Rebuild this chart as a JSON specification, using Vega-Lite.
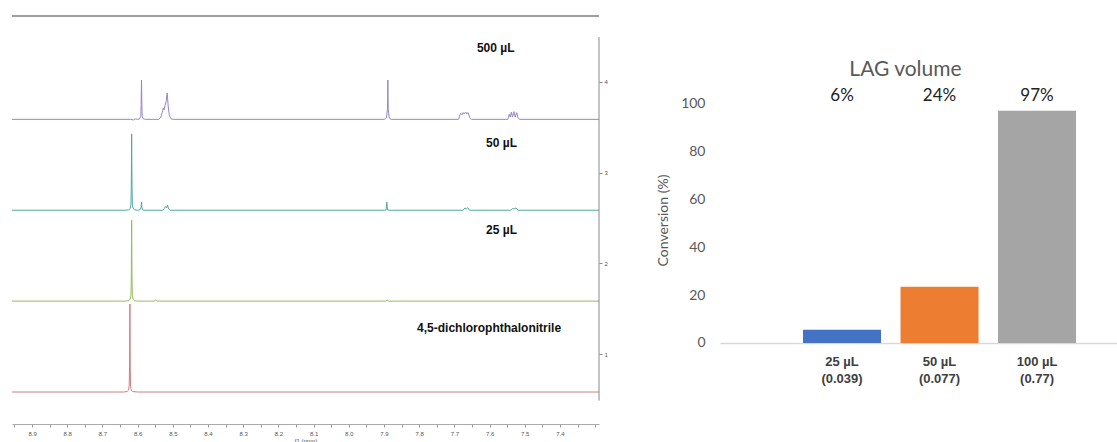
{
  "$schema": "https://vega.github.io/schema/vega-lite/v6.json",
  "padding": {"left": 10, "top": 15, "right": 0, "bottom": 0},
  "autosize": {"type": "pad"},
  "background": "white",
  "spacing": 121,
  "bounds": "flush",
  "resolve": {"scale": {"color": "independent"}},
  "config": {"view": {"stroke": null}},
  "datasets": {
    "spectra": [
      {"sample": "4,5-dichlorophthalonitrile", "ppm": 8.957, "signal": 0.585},
      {"sample": "4,5-dichlorophthalonitrile", "ppm": 8.64, "signal": 0.585},
      {"sample": "4,5-dichlorophthalonitrile", "ppm": 8.63, "signal": 0.59},
      {"sample": "4,5-dichlorophthalonitrile", "ppm": 8.626, "signal": 0.605},
      {"sample": "4,5-dichlorophthalonitrile", "ppm": 8.624, "signal": 0.65},
      {"sample": "4,5-dichlorophthalonitrile", "ppm": 8.623, "signal": 0.85},
      {"sample": "4,5-dichlorophthalonitrile", "ppm": 8.622, "signal": 1.553},
      {"sample": "4,5-dichlorophthalonitrile", "ppm": 8.621, "signal": 0.85},
      {"sample": "4,5-dichlorophthalonitrile", "ppm": 8.62, "signal": 0.65},
      {"sample": "4,5-dichlorophthalonitrile", "ppm": 8.618, "signal": 0.605},
      {"sample": "4,5-dichlorophthalonitrile", "ppm": 8.614, "signal": 0.59},
      {"sample": "4,5-dichlorophthalonitrile", "ppm": 8.6, "signal": 0.585},
      {"sample": "4,5-dichlorophthalonitrile", "ppm": 7.289, "signal": 0.585},

      {"sample": "25 µL", "ppm": 8.957, "signal": 1.585},
      {"sample": "25 µL", "ppm": 8.635, "signal": 1.585},
      {"sample": "25 µL", "ppm": 8.625, "signal": 1.59},
      {"sample": "25 µL", "ppm": 8.621, "signal": 1.605},
      {"sample": "25 µL", "ppm": 8.619, "signal": 1.65},
      {"sample": "25 µL", "ppm": 8.618, "signal": 1.85},
      {"sample": "25 µL", "ppm": 8.617, "signal": 2.477},
      {"sample": "25 µL", "ppm": 8.616, "signal": 1.85},
      {"sample": "25 µL", "ppm": 8.615, "signal": 1.65},
      {"sample": "25 µL", "ppm": 8.613, "signal": 1.605},
      {"sample": "25 µL", "ppm": 8.609, "signal": 1.59},
      {"sample": "25 µL", "ppm": 8.6, "signal": 1.585},
      {"sample": "25 µL", "ppm": 8.552, "signal": 1.585},
      {"sample": "25 µL", "ppm": 8.549, "signal": 1.6},
      {"sample": "25 µL", "ppm": 8.546, "signal": 1.585},
      {"sample": "25 µL", "ppm": 7.895, "signal": 1.585},
      {"sample": "25 µL", "ppm": 7.891, "signal": 1.597},
      {"sample": "25 µL", "ppm": 7.887, "signal": 1.585},
      {"sample": "25 µL", "ppm": 7.289, "signal": 1.585},

      {"sample": "50 µL", "ppm": 8.957, "signal": 2.585},
      {"sample": "50 µL", "ppm": 8.635, "signal": 2.585},
      {"sample": "50 µL", "ppm": 8.625, "signal": 2.59},
      {"sample": "50 µL", "ppm": 8.621, "signal": 2.605},
      {"sample": "50 µL", "ppm": 8.619, "signal": 2.65},
      {"sample": "50 µL", "ppm": 8.618, "signal": 2.85},
      {"sample": "50 µL", "ppm": 8.617, "signal": 3.426},
      {"sample": "50 µL", "ppm": 8.616, "signal": 2.85},
      {"sample": "50 µL", "ppm": 8.615, "signal": 2.65},
      {"sample": "50 µL", "ppm": 8.613, "signal": 2.605},
      {"sample": "50 µL", "ppm": 8.609, "signal": 2.59},
      {"sample": "50 µL", "ppm": 8.6, "signal": 2.585},
      {"sample": "50 µL", "ppm": 8.593, "signal": 2.59},
      {"sample": "50 µL", "ppm": 8.59, "signal": 2.62},
      {"sample": "50 µL", "ppm": 8.589, "signal": 2.675},
      {"sample": "50 µL", "ppm": 8.588, "signal": 2.62},
      {"sample": "50 µL", "ppm": 8.586, "signal": 2.59},
      {"sample": "50 µL", "ppm": 8.582, "signal": 2.585},
      {"sample": "50 µL", "ppm": 8.528, "signal": 2.585},
      {"sample": "50 µL", "ppm": 8.524, "signal": 2.605},
      {"sample": "50 µL", "ppm": 8.521, "signal": 2.625},
      {"sample": "50 µL", "ppm": 8.518, "signal": 2.61},
      {"sample": "50 µL", "ppm": 8.515, "signal": 2.64},
      {"sample": "50 µL", "ppm": 8.512, "signal": 2.6},
      {"sample": "50 µL", "ppm": 8.508, "signal": 2.585},
      {"sample": "50 µL", "ppm": 7.899, "signal": 2.585},
      {"sample": "50 µL", "ppm": 7.894, "signal": 2.59},
      {"sample": "50 µL", "ppm": 7.892, "signal": 2.675},
      {"sample": "50 µL", "ppm": 7.89, "signal": 2.59},
      {"sample": "50 µL", "ppm": 7.885, "signal": 2.585},
      {"sample": "50 µL", "ppm": 7.675, "signal": 2.585},
      {"sample": "50 µL", "ppm": 7.67, "signal": 2.61},
      {"sample": "50 µL", "ppm": 7.666, "signal": 2.6},
      {"sample": "50 µL", "ppm": 7.662, "signal": 2.612},
      {"sample": "50 µL", "ppm": 7.657, "signal": 2.585},
      {"sample": "50 µL", "ppm": 7.54, "signal": 2.585},
      {"sample": "50 µL", "ppm": 7.535, "signal": 2.605},
      {"sample": "50 µL", "ppm": 7.53, "signal": 2.598},
      {"sample": "50 µL", "ppm": 7.525, "signal": 2.61},
      {"sample": "50 µL", "ppm": 7.519, "signal": 2.585},
      {"sample": "50 µL", "ppm": 7.289, "signal": 2.585},

      {"sample": "500 µL", "ppm": 8.957, "signal": 3.585},
      {"sample": "500 µL", "ppm": 8.62, "signal": 3.585},
      {"sample": "500 µL", "ppm": 8.612, "signal": 3.578},
      {"sample": "500 µL", "ppm": 8.607, "signal": 3.59},
      {"sample": "500 µL", "ppm": 8.6, "signal": 3.585},
      {"sample": "500 µL", "ppm": 8.594, "signal": 3.59},
      {"sample": "500 µL", "ppm": 8.591, "signal": 3.62},
      {"sample": "500 µL", "ppm": 8.59, "signal": 3.75},
      {"sample": "500 µL", "ppm": 8.589, "signal": 4.018},
      {"sample": "500 µL", "ppm": 8.588, "signal": 3.75},
      {"sample": "500 µL", "ppm": 8.587, "signal": 3.62},
      {"sample": "500 µL", "ppm": 8.584, "signal": 3.59},
      {"sample": "500 µL", "ppm": 8.578, "signal": 3.585},
      {"sample": "500 µL", "ppm": 8.54, "signal": 3.585},
      {"sample": "500 µL", "ppm": 8.534, "signal": 3.61},
      {"sample": "500 µL", "ppm": 8.53, "signal": 3.66},
      {"sample": "500 µL", "ppm": 8.527, "signal": 3.71},
      {"sample": "500 µL", "ppm": 8.525, "signal": 3.69},
      {"sample": "500 µL", "ppm": 8.522, "signal": 3.74},
      {"sample": "500 µL", "ppm": 8.519, "signal": 3.78},
      {"sample": "500 µL", "ppm": 8.516, "signal": 3.875},
      {"sample": "500 µL", "ppm": 8.513, "signal": 3.72},
      {"sample": "500 µL", "ppm": 8.51, "signal": 3.63},
      {"sample": "500 µL", "ppm": 8.505, "signal": 3.59},
      {"sample": "500 µL", "ppm": 8.498, "signal": 3.585},
      {"sample": "500 µL", "ppm": 7.898, "signal": 3.585},
      {"sample": "500 µL", "ppm": 7.893, "signal": 3.6},
      {"sample": "500 µL", "ppm": 7.89, "signal": 3.7},
      {"sample": "500 µL", "ppm": 7.889, "signal": 4.018},
      {"sample": "500 µL", "ppm": 7.888, "signal": 3.7},
      {"sample": "500 µL", "ppm": 7.885, "signal": 3.6},
      {"sample": "500 µL", "ppm": 7.88, "signal": 3.585},
      {"sample": "500 µL", "ppm": 7.688, "signal": 3.585},
      {"sample": "500 µL", "ppm": 7.684, "signal": 3.64},
      {"sample": "500 µL", "ppm": 7.681, "signal": 3.65},
      {"sample": "500 µL", "ppm": 7.678, "signal": 3.635},
      {"sample": "500 µL", "ppm": 7.675, "signal": 3.66},
      {"sample": "500 µL", "ppm": 7.672, "signal": 3.645},
      {"sample": "500 µL", "ppm": 7.668, "signal": 3.665},
      {"sample": "500 µL", "ppm": 7.665, "signal": 3.645},
      {"sample": "500 µL", "ppm": 7.661, "signal": 3.66},
      {"sample": "500 µL", "ppm": 7.656, "signal": 3.6},
      {"sample": "500 µL", "ppm": 7.652, "signal": 3.585},
      {"sample": "500 µL", "ppm": 7.548, "signal": 3.585},
      {"sample": "500 µL", "ppm": 7.544, "signal": 3.64},
      {"sample": "500 µL", "ppm": 7.541, "signal": 3.61},
      {"sample": "500 µL", "ppm": 7.538, "signal": 3.665},
      {"sample": "500 µL", "ppm": 7.535, "signal": 3.61},
      {"sample": "500 µL", "ppm": 7.531, "signal": 3.67},
      {"sample": "500 µL", "ppm": 7.527, "signal": 3.61},
      {"sample": "500 µL", "ppm": 7.523, "signal": 3.66},
      {"sample": "500 µL", "ppm": 7.519, "signal": 3.6},
      {"sample": "500 µL", "ppm": 7.514, "signal": 3.585},
      {"sample": "500 µL", "ppm": 7.289, "signal": 3.585}
    ],
    "labels": [
      {"label": "500 µL", "ppm": 7.636, "signal": 4.37},
      {"label": "50 µL", "ppm": 7.61, "signal": 3.325},
      {"label": "25 µL", "ppm": 7.61, "signal": 2.367},
      {"label": "4,5-dichlorophthalonitrile", "ppm": 7.806, "signal": 1.29}
    ],
    "bars": [
      {"cat": "25 µL|(0.039)", "conv": 5.5, "pct": "6%"},
      {"cat": "50 µL|(0.077)", "conv": 23.5, "pct": "24%"},
      {"cat": "100 µL|(0.77)", "conv": 97.2, "pct": "97%"}
    ]
  },
  "hconcat": [
    {
      "width": 587,
      "height": 408,
      "layer": [
        {
          "data": {"name": "spectra"},
          "mark": {"type": "line", "strokeWidth": 1},
          "encoding": {
            "x": {
              "field": "ppm", "type": "quantitative",
              "scale": {"domain": [7.289, 8.957], "reverse": true, "nice": false, "zero": false},
              "axis": {
                "values": [8.95, 8.9, 8.85, 8.8, 8.75, 8.7, 8.65, 8.6, 8.55, 8.5, 8.45, 8.4, 8.35, 8.3, 8.25, 8.2, 8.15, 8.1, 8.05, 8.0, 7.95, 7.9, 7.85, 7.8, 7.75, 7.7, 7.65, 7.6, 7.55, 7.5, 7.45, 7.4, 7.35, 7.3],
                "tickCount": 200,
                "labelExpr": "(abs(datum.value*10 - round(datum.value*10)) < 0.01 && datum.value > 7.35) ? format(datum.value, '.1f') : ''",
                "labelOverlap": false, "labelBound": false, "labelFlush": false,
                "grid": false, "domainColor": "#aaaaaa", "tickColor": "#999999", "tickSize": 3,
                "labelFontSize": 6, "labelColor": "#555555", "labelPadding": 3, "labelFont": "Liberation Sans",
                "title": "f1 (ppm)", "titleFontSize": 6, "titleFontWeight": "normal", "titleColor": "#555555", "titlePadding": 1, "titleFont": "Liberation Sans"
              }
            },
            "y": {
              "field": "signal", "type": "quantitative",
              "scale": {"domain": [0.233, 4.722], "nice": false, "zero": false},
              "axis": {
                "orient": "right", "values": [1, 2, 3, 4], "format": "d", "domain": false, "grid": false,
                "tickColor": "#888888", "tickSize": 3, "labelFontSize": 6, "labelColor": "#555555",
                "labelPadding": 2, "title": null
              }
            },
            "color": {
              "field": "sample", "type": "nominal",
              "scale": {
                "domain": ["500 µL", "50 µL", "25 µL", "4,5-dichlorophthalonitrile"],
                "range": ["#9686c4", "#4fa9a0", "#98b866", "#cc7f84"]
              },
              "legend": null
            }
          }
        },
        {
          "data": {"name": "labels"},
          "mark": {"type": "text", "align": "left", "baseline": "middle", "font": "Liberation Sans", "fontWeight": "bold", "fontSize": 12, "color": "#111111"},
          "encoding": {
            "x": {"field": "ppm", "type": "quantitative"},
            "y": {"field": "signal", "type": "quantitative"},
            "text": {"field": "label"}
          }
        },
        {
          "data": {"values": [{}]},
          "mark": {"type": "rule", "color": "#a0a0a0", "strokeWidth": 2},
          "encoding": {"y": {"datum": 4.722}}
        },
        {
          "data": {"values": [{}]},
          "mark": {"type": "rule", "color": "#888888", "strokeWidth": 1},
          "encoding": {"x": {"datum": 7.289}, "y": {"datum": 4.49}, "y2": {"datum": 0.49}}
        }
      ]
    },
    {
      "width": 399,
      "height": 408,
      "title": {"text": "LAG volume", "font": "Lato", "fontSize": 21, "fontWeight": "normal", "color": "#595959", "frame": "group", "anchor": "middle", "offset": -64, "dx": -14},
      "data": {"name": "bars"},
      "layer": [
        {
          "mark": {"type": "bar"},
          "encoding": {
            "x": {
              "field": "cat", "type": "nominal", "sort": null,
              "scale": {"paddingInner": 0.2, "paddingOuter": 0.646, "align": 0.659},
              "axis": {
                "offset": -81, "labelAngle": 0, "labelExpr": "split(datum.value, '|')",
                "domainColor": "#d9d9d9", "domainWidth": 1.5, "ticks": false, "grid": false,
                "labelFont": "Liberation Sans", "labelFontWeight": "bold", "labelFontSize": 13,
                "labelColor": "#404040", "labelPadding": 12, "labelLineHeight": 17, "title": null
              }
            },
            "y": {
              "field": "conv", "type": "quantitative",
              "scale": {"domain": [-33.9, 136.8], "nice": false, "zero": false},
              "axis": {
                "values": [0, 20, 40, 60, 80, 100], "domain": false, "ticks": false, "grid": false,
                "labelFont": "Lato", "labelFontSize": 14, "labelColor": "#595959", "labelPadding": 15,
                "title": "Conversion (%)", "titleFont": "Lato", "titleFontSize": 14, "titleFontWeight": "normal",
                "titleColor": "#595959", "titlePadding": 10
              }
            },
            "y2": {"datum": 0},
            "color": {
              "field": "cat", "type": "nominal", "sort": null,
              "scale": {"domain": ["25 µL|(0.039)", "50 µL|(0.077)", "100 µL|(0.77)"], "range": ["#4472c4", "#ed7d31", "#a5a5a5"]},
              "legend": null
            }
          }
        },
        {
          "mark": {"type": "text", "font": "Lato", "fontSize": 17, "color": "#222222", "baseline": "middle"},
          "encoding": {
            "x": {"field": "cat", "type": "nominal", "sort": null},
            "y": {"datum": 103.3},
            "text": {"field": "pct"}
          }
        }
      ]
    }
  ]
}
